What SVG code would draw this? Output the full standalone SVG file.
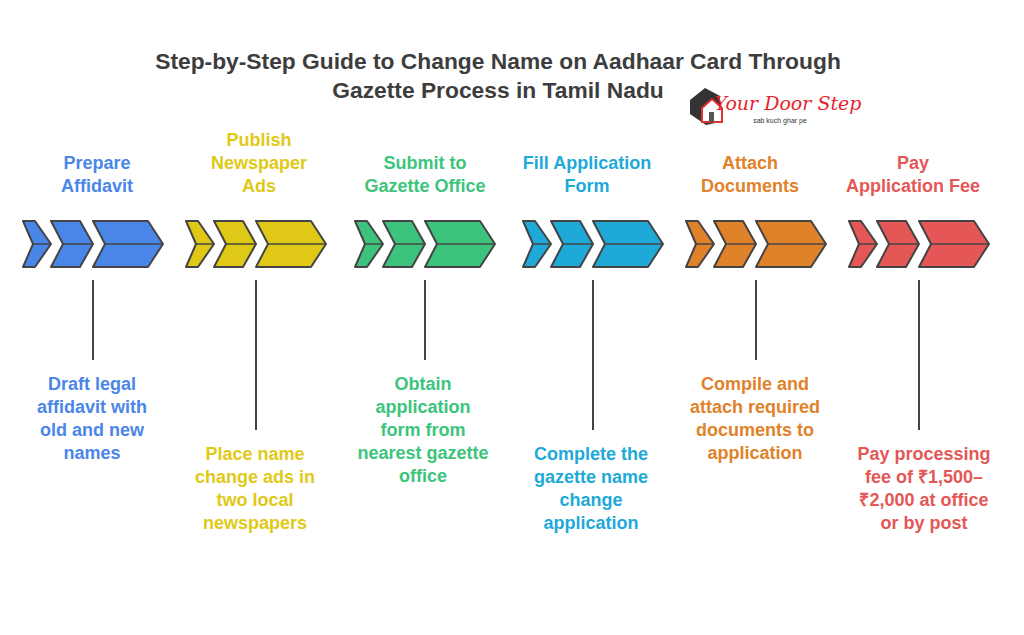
<svg xmlns="http://www.w3.org/2000/svg" width="1024" height="635" viewBox="0 0 1024 635">
<defs>
<style>
text{font-family:"Liberation Sans",Arial,sans-serif;font-weight:bold;text-anchor:middle}
.t{font-size:22.8px;fill:#3d3d3d}
.l{font-size:18px}
#chev path{stroke:#444;stroke-width:2;stroke-linejoin:round}
#chev .mid{stroke:#444;stroke-width:1.5}
.v{stroke:#444;stroke-width:2}
</style>
<g id="chev">
<path d="M0,0 H12 L28,23 L12,46 H0 L10,23 Z"/>
<path d="M28,0 H57 L70,23 L57,46 H28 L40,23 Z"/>
<path d="M70,0 H125 L140,23 L125,46 H70 L82,23 Z"/>
<path class="mid" d="M10,23 H28 M40,23 H70 M82,23 H140" fill="none"/>
</g>
</defs>
<rect width="1024" height="635" fill="#fff"/>
<text class="t" x="498" y="69">Step-by-Step Guide to Change Name on Aadhaar Card Through</text>
<text class="t" x="498" y="98">Gazette Process in Tamil Nadu</text>
<g id="logo">
<path d="M690,100 L705,88 L720,96 L720,122 L706,125 L690,114 Z" fill="#333"/>
<path d="M702,108 L712,99 L722,108 L722,122 L702,122 Z" fill="#fff" stroke="#d33" stroke-width="2"/>
<rect x="709" y="112" width="5" height="10" fill="#555"/>
<text x="788" y="110" style="font-family:'DejaVu Serif',serif;font-style:italic;font-size:19px;fill:#e8242c;font-weight:normal">Your Door Step</text>
<text x="780" y="123" style="font-size:7px;fill:#333;font-weight:normal">sab kuch ghar pe</text>
</g>
<g id="connectors">
<line class="v" x1="93" y1="280" x2="93" y2="360"/>
<line class="v" x1="256" y1="280" x2="256" y2="430"/>
<line class="v" x1="425" y1="280" x2="425" y2="360"/>
<line class="v" x1="593" y1="280" x2="593" y2="430"/>
<line class="v" x1="756" y1="280" x2="756" y2="360"/>
<line class="v" x1="919" y1="280" x2="919" y2="430"/>
</g>
<g id="step1" fill="#4a86e8">
<use href="#chev" x="23" y="221"/>
<text class="l" x="97" y="169">Prepare</text><text class="l" x="97" y="192">Affidavit</text>
<text class="l" x="92" y="390">Draft legal</text><text class="l" x="92" y="413">affidavit with</text><text class="l" x="92" y="436">old and new</text><text class="l" x="92" y="459">names</text>
</g>
<g id="step2" fill="#e0c916">
<use href="#chev" x="186" y="221"/>
<text class="l" x="259" y="146">Publish</text><text class="l" x="259" y="169">Newspaper</text><text class="l" x="259" y="192">Ads</text>
<text class="l" x="255" y="460">Place name</text><text class="l" x="255" y="483">change ads in</text><text class="l" x="255" y="506">two local</text><text class="l" x="255" y="529">newspapers</text>
</g>
<g id="step3" fill="#3cc47c">
<use href="#chev" x="355" y="221"/>
<text class="l" x="425" y="169">Submit to</text><text class="l" x="425" y="192">Gazette Office</text>
<text class="l" x="423" y="390">Obtain</text><text class="l" x="423" y="413">application</text><text class="l" x="423" y="436">form from</text><text class="l" x="423" y="459">nearest gazette</text><text class="l" x="423" y="482">office</text>
</g>
<g id="step4" fill="#1ea9d8">
<use href="#chev" x="523" y="221"/>
<text class="l" x="587" y="169">Fill Application</text><text class="l" x="587" y="192">Form</text>
<text class="l" x="591" y="460">Complete the</text><text class="l" x="591" y="483">gazette name</text><text class="l" x="591" y="506">change</text><text class="l" x="591" y="529">application</text>
</g>
<g id="step5" fill="#e0822a">
<use href="#chev" x="686" y="221"/>
<text class="l" x="750" y="169">Attach</text><text class="l" x="750" y="192">Documents</text>
<text class="l" x="755" y="390">Compile and</text><text class="l" x="755" y="413">attach required</text><text class="l" x="755" y="436">documents to</text><text class="l" x="755" y="459">application</text>
</g>
<g id="step6" fill="#e45756">
<use href="#chev" x="849" y="221"/>
<text class="l" x="913" y="169">Pay</text><text class="l" x="913" y="192">Application Fee</text>
<text class="l" x="924" y="460">Pay processing</text><text class="l" x="924" y="483">fee of ₹1,500–</text><text class="l" x="924" y="506">₹2,000 at office</text><text class="l" x="924" y="529">or by post</text>
</g>
</svg>
